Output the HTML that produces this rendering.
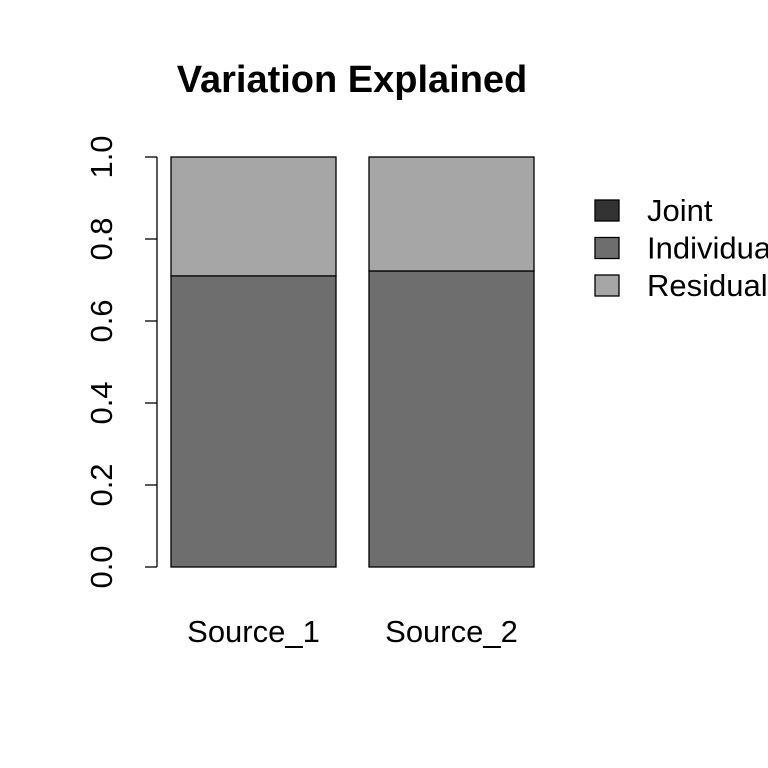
<!DOCTYPE html>
<html><head><meta charset="utf-8"><style>
html,body{margin:0;padding:0;background:#fff;}
svg{display:block;font-family:"Liberation Sans",Arial,sans-serif;}
</style></head><body>
<svg id="chart" width="768" height="768" viewBox="0 0 768 768">
<rect width="768" height="768" fill="#fff"/>
<text x="352" y="92" text-anchor="middle" font-size="38" font-weight="bold">Variation Explained</text>
<g id="axis"></g>
<g id="bars"></g>
<g id="legend"></g>
</svg>
<script>
const categories = ["Source_1", "Source_2"];
const jointVals = [0, 0];
const individualVals = [0.71, 0.722];
const residualVals = [0.29, 0.278];
const yTicks = [0, 0.2, 0.4, 0.6, 0.8, 1.0];
const yTickLabels = ["0.0", "0.2", "0.4", "0.6", "0.8", "1.0"];
const seriesNames = ["Joint", "Individual", "Residual"];
const seriesColors = ["#333333", "#6e6e6e", "#a6a6a6"];

const NS = "http://www.w3.org/2000/svg";
const y = v => 567 - v * 410;
const barLeft = i => 171 + i * 198;
const barW = 165;
function mk(tag, attrs, parent, txt) {
  const e = document.createElementNS(NS, tag);
  for (const k in attrs) e.setAttribute(k, attrs[k]);
  if (txt !== undefined) e.textContent = txt;
  parent.appendChild(e);
  return e;
}
const axis = document.getElementById("axis");
const ax = mk("line", {x1:157, x2:157, y1:y(0), y2:y(1), stroke:"#000", "stroke-width":1.3}, axis);


yTicks.forEach((t, i) => {
  const tk = mk("line", {x1:145, x2:157, y1:y(t), y2:y(t), stroke:"#000", "stroke-width":1.3}, axis);
  
  
  const lb = mk("text", {x:0, y:0, "font-size":31, "text-anchor":"middle", transform:`translate(112,${y(t)}) rotate(-90)`}, axis, yTickLabels[i]);
  
  
});
const bars = document.getElementById("bars");
categories.forEach((c, i) => {
  let base = 0;
  [jointVals[i], individualVals[i], residualVals[i]].forEach((v, s) => {
    if (v <= 0) return;
    const r = mk("rect", {x:barLeft(i), y:y(base + v), width:barW, height:y(base) - y(base + v), fill:seriesColors[s], stroke:"#000", "stroke-width":1.3}, bars);
    
    
    base += v;
  });
  const l = mk("text", {x:barLeft(i) + barW/2, y:642, "font-size":31, "text-anchor":"middle"}, bars, c);
  
  
});
const legend = document.getElementById("legend");
seriesNames.forEach((n, i) => {
  const yy = 200 + i * 37.5;
  const b = mk("rect", {x:595, y:yy, width:24, height:21, fill:seriesColors[i], stroke:"#000", "stroke-width":1.3}, legend);
  
  
  const t = mk("text", {x:647, y:yy + 21, "font-size":31}, legend, n);
  
  
});
</script>
</body></html>
